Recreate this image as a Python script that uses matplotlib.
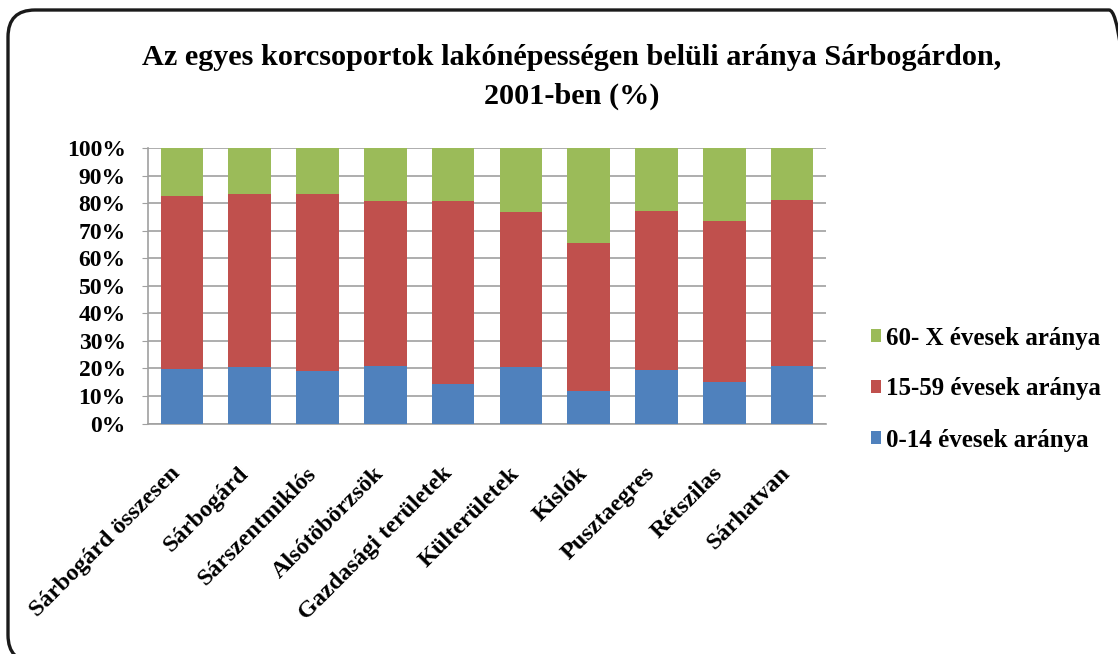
import matplotlib
matplotlib.use("Agg")
import matplotlib.pyplot as plt
from matplotlib.patches import FancyBboxPatch
from matplotlib.transforms import IdentityTransform, ScaledTranslation
import numpy as np

categories = ["Sárbogárd összesen", "Sárbogárd", "Sárszentmiklós", "Alsótöbörzsök",
              "Gazdasági területek", "Külterületek", "Kislók", "Pusztaegres",
              "Rétszilas", "Sárhatvan"]
young = [19.7, 20.4, 19.1, 20.7, 14.4, 20.4, 11.7, 19.3, 15.0, 20.7]
adult = [62.7, 63.0, 64.3, 60.0, 66.4, 56.3, 53.7, 57.9, 58.6, 60.6]
old = [17.6, 16.6, 16.6, 19.3, 19.2, 23.3, 34.6, 22.8, 26.4, 18.7]
series_names = ["0-14 évesek aránya", "15-59 évesek aránya", "60- X évesek aránya"]
colors = ["#4F81BD", "#C0504D", "#9BBB59"]
yticks = [0, 10, 20, 30, 40, 50, 60, 70, 80, 90, 100]
title = "Az egyes korcsoportok lakónépességen belüli aránya Sárbogárdon,\n2001-ben (%)"

plt.rcParams['font.family'] = ['Liberation Serif', 'DejaVu Serif']

fig = plt.figure(figsize=(11.18, 6.54), dpi=100)
W, H = 1118, 654
ax = fig.add_axes([148 / W, 1 - 423.5 / H, (826 - 148) / W, (423.5 - 148) / H])

x = np.arange(len(categories))
bottom = np.zeros(len(categories))
handles = []
for vals, name, c in zip([young, adult, old], series_names, colors):
    b = ax.bar(x, vals, bottom=bottom, width=0.63, color=c, label=name, zorder=3)
    handles.append(b)
    bottom += np.array(vals)

ax.set_xlim(-0.5, len(categories) - 0.5)
ax.set_ylim(0, 100)
ax.set_yticks(yticks)
ax.set_yticklabels([f"{v}%" for v in yticks], fontsize=17, fontweight='bold')
ax.yaxis.grid(True, color="#A0A0A0", linewidth=1.2, zorder=0)
ax.set_axisbelow(True)
ax.set_xticks(x)
ax.set_xticklabels(categories, rotation=45, ha='right', rotation_mode='anchor',
                   fontsize=17.5, fontweight='bold')
ax.tick_params(axis='x', length=0, pad=24)
ax.tick_params(axis='y', length=4, color="#A0A0A0", pad=12)
shift = ScaledTranslation(-12 / 100, -6 / 100, fig.dpi_scale_trans)
for lab in ax.get_xticklabels():
    lab.set_transform(lab.get_transform() + shift)
for s in ['top', 'right']:
    ax.spines[s].set_visible(False)
for s in ['left', 'bottom']:
    ax.spines[s].set_color("#A0A0A0")
    ax.spines[s].set_linewidth(1.2)

leg = fig.legend(handles[::-1], series_names[::-1], loc='center left',
                 bbox_to_anchor=(871 / W, 1 - 389 / H), frameon=False,
                 prop={'size': 18, 'weight': 'bold'}, labelspacing=1.12,
                 handlelength=0.38, handleheight=0.38, handletextpad=0.2,
                 borderpad=0, borderaxespad=0)

fig.text(572 / W, 1 - 77 / H, title, ha='center', va='center', fontsize=21.8,
         fontweight='bold', linespacing=1.6)

border = FancyBboxPatch((8, -8), 1136 - 8, 644 + 8,
                        boxstyle="round,pad=0,rounding_size=27",
                        transform=IdentityTransform(), fill=False,
                        edgecolor="#1a1a1a", linewidth=2.4, clip_on=False)
fig.patches.append(border)

fig.savefig("out.png", dpi=100)
